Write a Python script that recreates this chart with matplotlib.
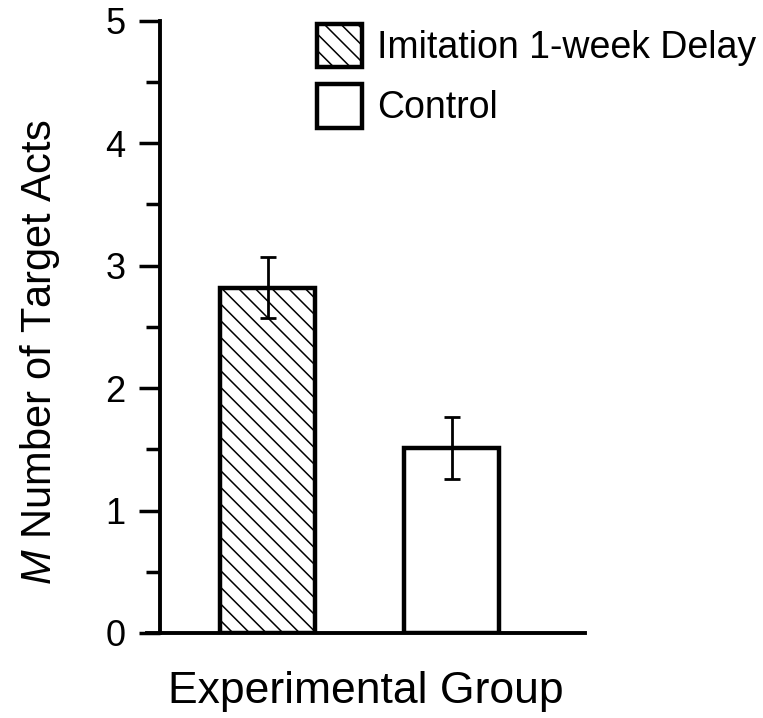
import matplotlib
matplotlib.use('Agg')
import matplotlib.pyplot as plt
from matplotlib.ticker import MultipleLocator

# datos
groups = ['Imitation 1-week Delay', 'Control']
means = [2.82, 1.51]
errors = [0.25, 0.25]
hatches = ['\\\\', '']

plt.rcParams['font.family'] = ['Liberation Sans', 'DejaVu Sans']
plt.rcParams['mathtext.fontset'] = 'custom'
plt.rcParams['mathtext.it'] = 'Liberation Sans:italic'
plt.rcParams['mathtext.rm'] = 'Liberation Sans'
plt.rcParams['hatch.linewidth'] = 1.1

fig = plt.figure(figsize=(7.63, 7.18), dpi=100)
ax = fig.add_axes([147 / 763, (718 - 633) / 718, 438 / 763, 612.3 / 718])

x = list(range(len(groups)))
bars = ax.bar(x, means, width=0.516, color='white', edgecolor='black',
              linewidth=3.2, zorder=2)
for b, h, g in zip(bars, hatches, groups):
    b.set_hatch(h)
    b.set_label(g)
ax.errorbar(x, means, yerr=errors, fmt='none', ecolor='black',
            elinewidth=2, capsize=6, capthick=2, zorder=3)

ax.set_xlim(-0.655, 1.7255)
ax.set_ylim(0, 5)
ax.yaxis.set_major_locator(MultipleLocator(1))
ax.yaxis.set_minor_locator(MultipleLocator(0.5))
ax.tick_params(axis='y', which='major', length=15, width=2.5, pad=10, labelsize=26)
ax.tick_params(axis='y', which='minor', length=10, width=2.5)
ax.set_xticks([])

for s in ['top', 'right']:
    ax.spines[s].set_visible(False)
ax.spines['left'].set_linewidth(2.8)
ax.spines['bottom'].set_linewidth(2.8)
ax.spines['left'].set_position(('data', -0.584))

ax.set_ylabel(r'$\it{M}$ Number of Target Acts', fontsize=30)
ax.yaxis.set_label_coords(-0.195, 0.459)
ax.set_xlabel('Experimental Group', fontsize=32, labelpad=27)

ax.legend(handles=list(bars), labels=groups, loc='upper left',
          bbox_to_anchor=(317 / 763, 1 - 24 / 718), bbox_transform=fig.transFigure,
          frameon=False, fontsize=27, borderpad=0, handlelength=1.2,
          handleheight=1.4, handletextpad=0.4, labelspacing=0.45,
          borderaxespad=0)

fig.savefig('out.png', dpi=100)
